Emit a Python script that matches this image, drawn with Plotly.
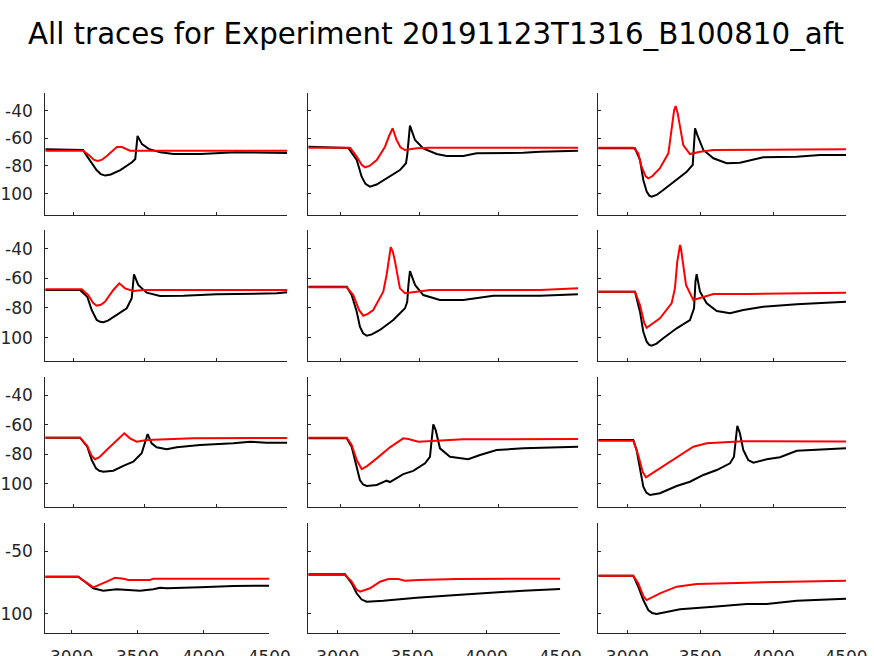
import plotly.graph_objects as go
from plotly.subplots import make_subplots

TITLE = "All traces for Experiment 20191123T1316_B100810_aft"
X_TICKS = [3000, 3500, 4000, 4500]
X_TICK_TEXT = ["3000", "3500", "4000", "4500"]
Y_TICKS_UPPER = [-100, -80, -60, -40]
Y_TICK_TEXT_UPPER = ["-100", "-80", "-60", "-40"]
Y_TICKS_BOTTOM = [-100, -50]
Y_TICK_TEXT_BOTTOM = ["-100", "-50"]
X_RANGE = [2800, 4500]
Y_RANGE = [-115.5, -27.5]

# ---- Row 1 ----
R1C1_BLACK_T = [2800, 2860, 3065, 3100, 3160, 3190, 3221, 3260, 3327, 3409, 3432, 3448, 3479, 3526, 3608, 3701, 3889, 4139, 4500]
R1C1_BLACK_V = [-68, -68, -68.5, -74, -83, -86, -87, -86.2, -83, -77.4, -75, -58.3, -64.3, -67.7, -70.2, -71.4, -71.4, -70.2, -70.7]
R1C1_RED_T = [2800, 3065, 3110, 3140, 3167, 3195, 3230, 3303, 3338, 3395, 3500, 4500]
R1C1_RED_V = [-69, -69, -72.5, -75.5, -76.5, -75.7, -73, -66.4, -66.4, -69, -69, -69]

R1C2_BLACK_T = [2800, 2860, 3052, 3105, 3136, 3160, 3188, 3230, 3314, 3377, 3415, 3423, 3440, 3472, 3524, 3608, 3671, 3776, 3860, 4154, 4259, 4500]
R1C2_BLACK_V = [-66.2, -66.5, -67, -75.7, -87.8, -93, -95, -93.5, -87.8, -83, -78.1, -72, -50.9, -61.3, -67.3, -71.4, -72.8, -72.8, -70.9, -70.5, -69.7, -69]
R1C2_RED_T = [2800, 3063, 3105, 3135, 3157, 3185, 3231, 3283, 3310, 3331, 3356, 3380, 3409, 3482, 3560, 4500]
R1C2_RED_V = [-66.8, -66.8, -73.3, -79, -81, -80, -75.7, -66.1, -58, -52.8, -61.3, -66.5, -68.5, -67.3, -66.8, -66.8]

R1C3_BLACK_T = [2800, 3052, 3086, 3109, 3132, 3150, 3166, 3200, 3246, 3338, 3407, 3448, 3457, 3464, 3480, 3521, 3590, 3681, 3772, 3932, 4162, 4322, 4500]
R1C3_BLACK_V = [-67.3, -67.3, -75.7, -90.2, -98.6, -101.5, -102.3, -101, -97.4, -90.2, -84.2, -79.3, -60, -52.8, -57.7, -68.5, -74.5, -78.1, -77.7, -73.8, -73.3, -72.1, -72.1]
R1C3_RED_T = [2800, 3040, 3074, 3097, 3125, 3143, 3170, 3223, 3281, 3303, 3320, 3331, 3345, 3361, 3383, 3429, 3498, 3590, 4450, 4500]
R1C3_RED_V = [-66.8, -66.8, -70.9, -80.6, -87.5, -89, -87.5, -81.7, -70.9, -54, -40, -36.7, -42, -51.6, -64.9, -71.4, -69.7, -68.5, -68.5, -68]

# ---- Row 2 ----
R2C1_BLACK_T = [2800, 3044, 3095, 3126, 3161, 3185, 3208, 3240, 3302, 3372, 3407, 3414, 3423, 3453, 3512, 3606, 3770, 4004, 4426, 4500]
R2C1_BLACK_V = [-67.9, -67.9, -72.4, -81.4, -88.1, -89.3, -89.6, -88.5, -84.7, -80.2, -73.5, -64, -57.3, -64.5, -69.7, -71.9, -71.7, -70.8, -70.1, -69.4]
R2C1_RED_T = [2800, 3056, 3102, 3135, 3161, 3190, 3219, 3278, 3320, 3360, 3418, 3488, 4500]
R2C1_RED_V = [-67.4, -67.4, -71.3, -76.5, -78.5, -77.8, -75.8, -67.9, -63.4, -66.8, -68.6, -67.9, -67.9]

R2C2_BLACK_T = [2800, 3042, 3073, 3105, 3125, 3145, 3168, 3200, 3251, 3335, 3409, 3423, 3430, 3440, 3472, 3524, 3629, 3776, 3965, 4259, 4500]
R2C2_BLACK_V = [-65.7, -65.7, -71.3, -82.5, -92.6, -97, -98.7, -97.8, -94.8, -88.1, -80.2, -75.8, -65, -55.1, -64.5, -71.3, -74.6, -74.6, -71.7, -71.7, -70.8]
R2C2_RED_T = [2800, 3042, 3083, 3120, 3146, 3175, 3209, 3272, 3293, 3308, 3319, 3332, 3346, 3377, 3409, 3482, 3566, 4259, 4500]
R2C2_RED_V = [-66.1, -66.1, -71.3, -81.5, -85.2, -84, -81.4, -69, -57.8, -45, -39.1, -42, -48.8, -66.8, -70.1, -69, -67.9, -67.9, -66.8]

R2C3_BLACK_T = [2800, 3052, 3086, 3109, 3132, 3150, 3166, 3200, 3246, 3338, 3429, 3457, 3467, 3475, 3498, 3544, 3613, 3704, 3795, 3932, 4162, 4500]
R2C3_BLACK_V = [-69, -69, -82.5, -96, -102.7, -104.8, -105.4, -104, -100.4, -93.7, -88.1, -80.2, -62, -57.3, -69, -76.9, -82, -83.6, -81.4, -79.1, -77.5, -75.8]
R2C3_RED_T = [2800, 3052, 3086, 3115, 3132, 3160, 3223, 3303, 3326, 3342, 3356, 3361, 3366, 3379, 3402, 3452, 3521, 3590, 3819, 4500]
R2C3_RED_V = [-69, -69, -78, -90, -93.3, -91.5, -87, -76.9, -66.8, -48.8, -38.5, -37.6, -39, -48.8, -64.5, -74.6, -72.4, -70.6, -70.6, -69.7]

# ---- Row 3 ----
R3C1_BLACK_T = [2800, 3044, 3095, 3126, 3156, 3180, 3208, 3278, 3348, 3418, 3477, 3500, 3519, 3547, 3582, 3653, 3723, 3887, 4121, 4238, 4355, 4500]
R3C1_BLACK_V = [-68.8, -68.8, -74.9, -83.9, -89.5, -91.2, -91.8, -91.1, -87.9, -85, -79.3, -72.6, -66.3, -72.6, -75.3, -76.6, -75.3, -73.7, -72.6, -71.5, -72.2, -72.2]
R3C1_RED_T = [2800, 3044, 3095, 3125, 3149, 3180, 3231, 3302, 3355, 3395, 3442, 3512, 3653, 3840, 4500]
R3C1_RED_V = [-68.8, -68.8, -74.4, -81, -83.4, -82, -77.1, -70.4, -65.8, -69.2, -71.5, -70.4, -69.7, -69.2, -69]

R3C2_BLACK_T = [2800, 3042, 3073, 3105, 3125, 3145, 3168, 3231, 3293, 3314, 3398, 3461, 3535, 3566, 3577, 3587, 3602, 3629, 3692, 3807, 3881, 3986, 4154, 4500]
R3C2_BLACK_V = [-69.2, -69.2, -74.9, -88.4, -97.4, -100.5, -101.5, -100.8, -97.9, -98.8, -93.4, -91.3, -86.1, -81.7, -72, -59.7, -63.6, -76, -81.7, -83.4, -80.5, -77.1, -76, -74.9]
R3C2_RED_T = [2800, 3042, 3073, 3105, 3136, 3170, 3231, 3314, 3398, 3430, 3493, 3587, 3776, 4500]
R3C2_RED_V = [-68.8, -68.8, -73.7, -83.9, -90, -88, -82.8, -75.3, -69.2, -69.7, -71.5, -70.8, -69.9, -69.7]

R3C3_BLACK_T = [2800, 3040, 3063, 3086, 3109, 3130, 3155, 3223, 3338, 3429, 3521, 3613, 3704, 3731, 3743, 3754, 3772, 3795, 3829, 3864, 3956, 4047, 4162, 4367, 4500]
R3C3_BLACK_V = [-70.3, -70.3, -77.1, -90.7, -102, -106, -107.6, -106.4, -101.5, -98.6, -94, -90.7, -86.1, -81.7, -70, -60.7, -65.8, -77.1, -83.9, -85.7, -83.4, -82, -77.6, -76.6, -75.9]
R3C3_RED_T = [2800, 3040, 3074, 3105, 3127, 3160, 3223, 3338, 3452, 3544, 3681, 3795, 4500]
R3C3_RED_V = [-70.8, -70.8, -80.5, -92, -95.6, -93.5, -89.5, -81.7, -74.9, -72.6, -71.7, -71.2, -71.4]

# ---- Row 4 ----
R4C1_BLACK_T = [2800, 3050, 3101, 3164, 3240, 3342, 3519, 3620, 3671, 3722, 3975, 4227, 4500]
R4C1_BLACK_V = [-70.2, -70.2, -74.2, -79.5, -81.4, -80.3, -81.4, -80.3, -79, -79.5, -78.7, -77.7, -77.4]
R4C1_RED_T = [2800, 3050, 3101, 3164, 3266, 3329, 3392, 3430, 3594, 3620, 4500]
R4C1_RED_V = [-70.2, -70.2, -74.2, -78.7, -74.2, -71, -71.8, -72.9, -72.9, -71.8, -71.8]

R4C2_BLACK_T = [2800, 3048, 3093, 3126, 3160, 3194, 3306, 3531, 3801, 4026, 4250, 4500]
R4C2_BLACK_V = [-68.3, -68.3, -75.5, -83.5, -88.5, -90.2, -89.4, -87, -84.9, -83, -81.4, -80.1]
R4C2_RED_T = [2800, 3048, 3093, 3125, 3149, 3180, 3216, 3284, 3340, 3407, 3452, 3542, 3801, 4500]
R4C2_RED_V = [-68.9, -68.9, -74.2, -80.5, -82.2, -81.2, -79.5, -74.2, -72.1, -72.1, -73.4, -72.9, -72.1, -71.8]

R4C3_BLACK_T = [2800, 3040, 3074, 3109, 3143, 3170, 3200, 3361, 3590, 3819, 3956, 4162, 4500]
R4C3_BLACK_V = [-69.4, -69.4, -78.2, -88.9, -96.9, -99.3, -100.1, -96.3, -94.2, -92.1, -92.1, -89.4, -87.8]
R4C3_RED_T = [2800, 3040, 3074, 3110, 3132, 3165, 3223, 3338, 3475, 3819, 4276, 4500]
R4C3_RED_V = [-69.4, -69.4, -75.5, -86, -88.9, -86.8, -83.5, -78.2, -76.1, -75, -74.2, -73.4]

PANELS = [
    [(R1C1_BLACK_T, R1C1_BLACK_V, R1C1_RED_T, R1C1_RED_V),
     (R1C2_BLACK_T, R1C2_BLACK_V, R1C2_RED_T, R1C2_RED_V),
     (R1C3_BLACK_T, R1C3_BLACK_V, R1C3_RED_T, R1C3_RED_V)],
    [(R2C1_BLACK_T, R2C1_BLACK_V, R2C1_RED_T, R2C1_RED_V),
     (R2C2_BLACK_T, R2C2_BLACK_V, R2C2_RED_T, R2C2_RED_V),
     (R2C3_BLACK_T, R2C3_BLACK_V, R2C3_RED_T, R2C3_RED_V)],
    [(R3C1_BLACK_T, R3C1_BLACK_V, R3C1_RED_T, R3C1_RED_V),
     (R3C2_BLACK_T, R3C2_BLACK_V, R3C2_RED_T, R3C2_RED_V),
     (R3C3_BLACK_T, R3C3_BLACK_V, R3C3_RED_T, R3C3_RED_V)],
    [(R4C1_BLACK_T, R4C1_BLACK_V, R4C1_RED_T, R4C1_RED_V),
     (R4C2_BLACK_T, R4C2_BLACK_V, R4C2_RED_T, R4C2_RED_V),
     (R4C3_BLACK_T, R4C3_BLACK_V, R4C3_RED_T, R4C3_RED_V)],
]

W, H = 874, 656
# pixel layout of each axes box
ROW_PX = [(93.3, 215.0), (230.0, 360.7), (376.7, 506.7), (523.3, 633.3)]
COL_PX_UPPER = [(45.3, 287.3), (308.3, 578.3), (598.3, 846.0)]
COL_PX_BOTTOM = [(45.3, 269.3), (308.3, 560.3), (598.3, 846.0)]

AX_COLOR = "#262626"
FONT = "DejaVu Sans"

fig = make_subplots(rows=4, cols=3)

for r in range(4):
    for c in range(3):
        bt, bv, rt, rv = PANELS[r][c]
        fig.add_trace(go.Scatter(x=bt, y=bv, mode="lines",
                                 line=dict(color="#000000", width=2),
                                 showlegend=False, hoverinfo="skip"),
                      row=r + 1, col=c + 1)
        fig.add_trace(go.Scatter(x=rt, y=rv, mode="lines",
                                 line=dict(color="#ff0000", width=2),
                                 showlegend=False, hoverinfo="skip"),
                      row=r + 1, col=c + 1)
        cols = COL_PX_BOTTOM if r == 3 else COL_PX_UPPER
        x0, x1 = cols[c]
        y0, y1 = ROW_PX[r]
        fig.update_xaxes(
            domain=[x0 / W, x1 / W], range=X_RANGE, automargin=False,
            tickvals=X_TICKS, ticktext=X_TICK_TEXT,
            showticklabels=(r == 3),
            ticks="inside", ticklen=3, tickwidth=1, tickcolor=AX_COLOR,
            ticklabelstandoff=8,
            showline=True, linecolor=AX_COLOR, linewidth=1,
            showgrid=False, zeroline=False,
            tickfont=dict(family=FONT, size=17, color=AX_COLOR),
            row=r + 1, col=c + 1)
        yt = Y_TICKS_BOTTOM if r == 3 else Y_TICKS_UPPER
        ytt = Y_TICK_TEXT_BOTTOM if r == 3 else Y_TICK_TEXT_UPPER
        fig.update_yaxes(
            domain=[1 - y1 / H, 1 - y0 / H], range=Y_RANGE, automargin=False,
            tickvals=yt, ticktext=ytt,
            showticklabels=(c == 0),
            ticks="inside", ticklen=3, tickwidth=1, tickcolor=AX_COLOR,
            ticklabelstandoff=8,
            showline=True, linecolor=AX_COLOR, linewidth=1,
            showgrid=False, zeroline=False,
            tickfont=dict(family=FONT, size=17, color=AX_COLOR),
            row=r + 1, col=c + 1)

fig.update_layout(
    width=W, height=H, autosize=False,
    margin=dict(l=0, r=0, t=0, b=0, pad=0),
    paper_bgcolor="white", plot_bgcolor="white",
    title=dict(text=TITLE, x=436 / W, xref="paper", xanchor="center",
               y=1 - 34 / H, yref="paper", yanchor="middle",
               font=dict(family=FONT, size=29.3, color="#000000")),
)

fig.write_html("out.html", config={"displayModeBar": False},
               post_script="document.body.style.margin='0';document.body.style.overflow='hidden';")
